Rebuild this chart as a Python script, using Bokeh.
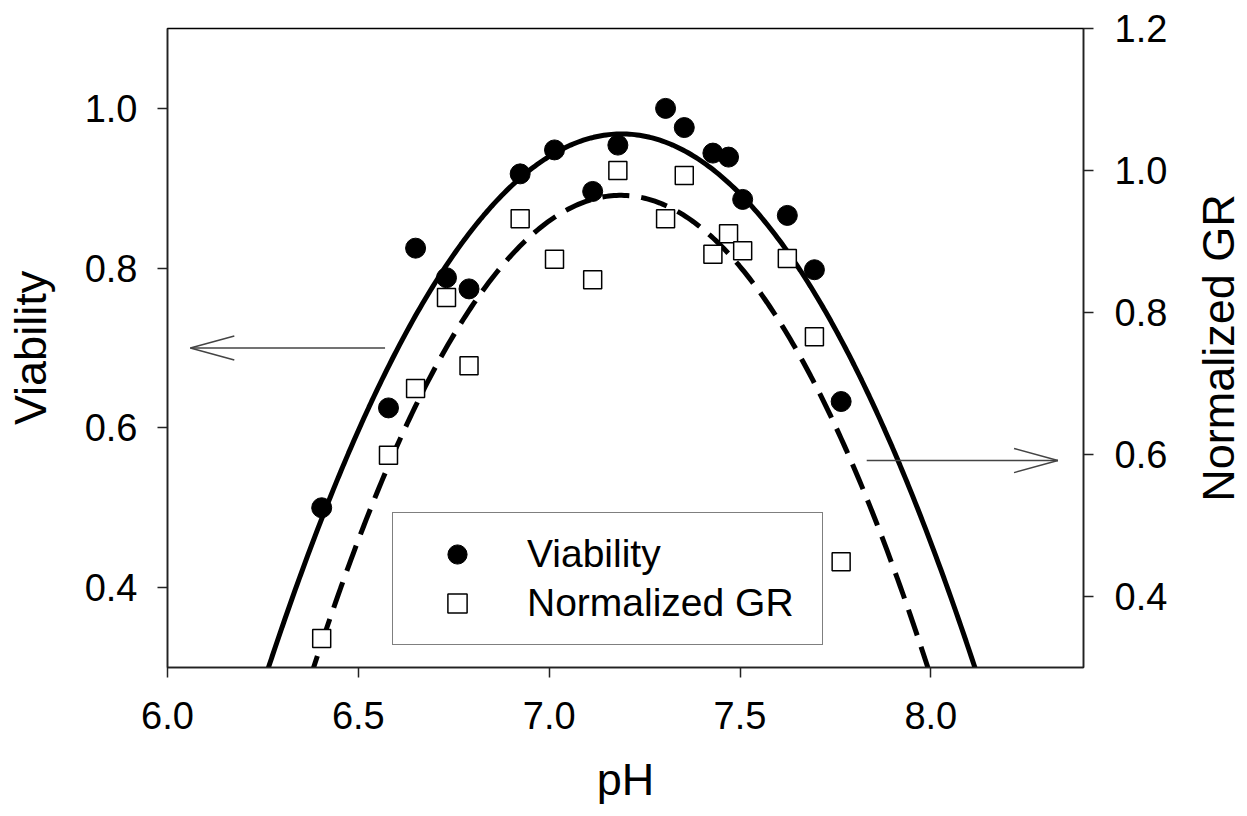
import numpy as np
from bokeh.plotting import figure
from bokeh.layouts import row
from bokeh.models import (Range1d, LinearAxis, FixedTicker, PrintfTickFormatter,
                          Legend, LegendItem)
from bokeh.embed import file_html
from bokeh.resources import INLINE

# ---- data ----
ph = [6.404, 6.579, 6.650, 6.731, 6.790, 6.924, 7.014, 7.114, 7.180,
      7.305, 7.354, 7.429, 7.470, 7.507, 7.624, 7.695, 7.765]
viability = [0.500, 0.625, 0.825, 0.788, 0.774, 0.918, 0.948, 0.896, 0.954,
             1.000, 0.976, 0.944, 0.939, 0.886, 0.866, 0.798, 0.633]
normalized_gr = [0.341, 0.599, 0.693, 0.821, 0.725, 0.932, 0.875, 0.846, 1.000,
                 0.932, 0.993, 0.882, 0.911, 0.887, 0.876, 0.766, 0.449]

# fitted parabolas (vertex pH, peak value, curvature)
via_fit = dict(center=7.19, peak=0.968, curv=0.78)
gr_fit = dict(center=7.1875, peak=0.965, curv=1.027)

x_ticks = [6.0, 6.5, 7.0, 7.5, 8.0]
left_ticks = [0.4, 0.6, 0.8, 1.0]
right_ticks = [0.4, 0.6, 0.8, 1.0, 1.2]

# annotation arrows (pH, value)
left_arrow = dict(x_tail=6.57, x_tip=6.06, y=0.70, head_len=0.115, head_half=0.015)
right_arrow = dict(x_tail=7.832, x_tip=8.333, y=0.5915, head_len=0.115, head_half=0.017)

FONT = "Liberation Sans"

p = figure(width=1187, height=816, output_backend="svg", toolbar_location=None,
           x_range=Range1d(6.0, 8.4), y_range=Range1d(0.3, 1.1),
           min_border_left=167, min_border_right=104, min_border_top=28,
           min_border_bottom=149, x_axis_label="pH", y_axis_label="Viability",
           background_fill_color="white", border_fill_color="white")
p.xgrid.visible = False
p.ygrid.visible = False
p.outline_line_color = "black"
p.outline_line_width = 1.5

p.extra_y_ranges = {"gr": Range1d(0.3, 1.2)}
right_axis = LinearAxis(y_range_name="gr")
p.add_layout(right_axis, "right")

p.xaxis[0].ticker = FixedTicker(ticks=x_ticks)
p.yaxis[0].ticker = FixedTicker(ticks=left_ticks)
right_axis.ticker = FixedTicker(ticks=right_ticks)

for ax in [p.xaxis[0], p.yaxis[0], right_axis]:
    ax.formatter = PrintfTickFormatter(format="%.1f")
    ax.major_tick_in = 0
    ax.major_tick_out = 10
    ax.minor_tick_in = 0
    ax.minor_tick_out = 0
    ax.axis_line_color = "#222222"
    ax.axis_line_width = 1.5
    ax.major_tick_line_color = "#222222"
    ax.major_tick_line_width = 1.5
    ax.major_label_text_font = FONT
    ax.major_label_text_font_size = "38px"
    ax.major_label_text_color = "black"
    ax.axis_label_text_font = FONT
    ax.axis_label_text_font_size = "45px"
    ax.axis_label_text_font_style = "normal"
    ax.axis_label_text_color = "black"

p.yaxis[0].major_label_standoff = 20
p.yaxis[0].axis_label_standoff = 26
p.xaxis[0].major_label_standoff = 24
p.xaxis[0].axis_label_standoff = 22
right_axis.major_label_standoff = 21

# fitted curves
xs = np.linspace(6.2, 8.2, 300)
via_curve = via_fit["peak"] - via_fit["curv"] * (xs - via_fit["center"]) ** 2
gr_curve = gr_fit["peak"] - gr_fit["curv"] * (xs - gr_fit["center"]) ** 2
p.line(xs, via_curve, line_color="black", line_width=5)
p.line(xs, gr_curve, line_color="black", line_width=5, line_dash="27 12",
       y_range_name="gr")

# arrows
la = left_arrow
p.segment(x0=[la["x_tail"], la["x_tip"], la["x_tip"]],
          y0=[la["y"], la["y"], la["y"]],
          x1=[la["x_tip"], la["x_tip"] + la["head_len"], la["x_tip"] + la["head_len"]],
          y1=[la["y"], la["y"] + la["head_half"], la["y"] - la["head_half"]],
          line_color="#444444", line_width=1.5)
ra = right_arrow
p.segment(x0=[ra["x_tail"], ra["x_tip"], ra["x_tip"]],
          y0=[ra["y"], ra["y"], ra["y"]],
          x1=[ra["x_tip"], ra["x_tip"] - ra["head_len"], ra["x_tip"] - ra["head_len"]],
          y1=[ra["y"], ra["y"] + ra["head_half"], ra["y"] - ra["head_half"]],
          line_color="#444444", line_width=1.5, y_range_name="gr")

# points
r_via = p.scatter(ph, viability, marker="circle", size=20,
                  fill_color="black", line_color="black")
r_gr = p.scatter(ph, normalized_gr, marker="square", size=18,
                 fill_color="white", line_color="black", line_width=1.5,
                 y_range_name="gr")

legend = Legend(items=[LegendItem(label="Viability", renderers=[r_via]),
                       LegendItem(label="Normalized GR", renderers=[r_gr])],
                location=(225, 22), padding=17, spacing=1, margin=0,
                glyph_width=94, glyph_height=48, label_height=48,
                label_width=278, label_standoff=23,
                border_line_color="black", border_line_width=1.5,
                background_fill_color="white", background_fill_alpha=1.0,
                label_text_font=FONT, label_text_font_size="39px",
                label_text_color="black")
p.add_layout(legend)

# narrow companion panel that carries the right-hand title (reads bottom-to-top)
q = figure(width=60, height=816, output_backend="svg", toolbar_location=None,
           x_range=Range1d(0, 1), y_range=Range1d(0.3, 1.2),
           min_border_left=56, min_border_right=0, min_border_top=28,
           min_border_bottom=149, y_axis_label="Normalized GR",
           background_fill_color="white", border_fill_color="white")
q.outline_line_color = None
q.xgrid.visible = False
q.ygrid.visible = False
q.xaxis.visible = False
qa = q.yaxis[0]
qa.ticker = FixedTicker(ticks=[])
qa.axis_line_color = None
qa.major_tick_out = 0
qa.minor_tick_out = 0
qa.major_tick_in = 0
qa.minor_tick_in = 0
qa.axis_label_standoff = 0
qa.axis_label_text_font = FONT
qa.axis_label_text_font_size = "45px"
qa.axis_label_text_font_style = "normal"
qa.axis_label_text_color = "black"
q.scatter([0.5], [0.5], size=0, alpha=0)

layout = row(p, q, spacing=0)
open("out.html", "w").write(file_html(layout, INLINE))
